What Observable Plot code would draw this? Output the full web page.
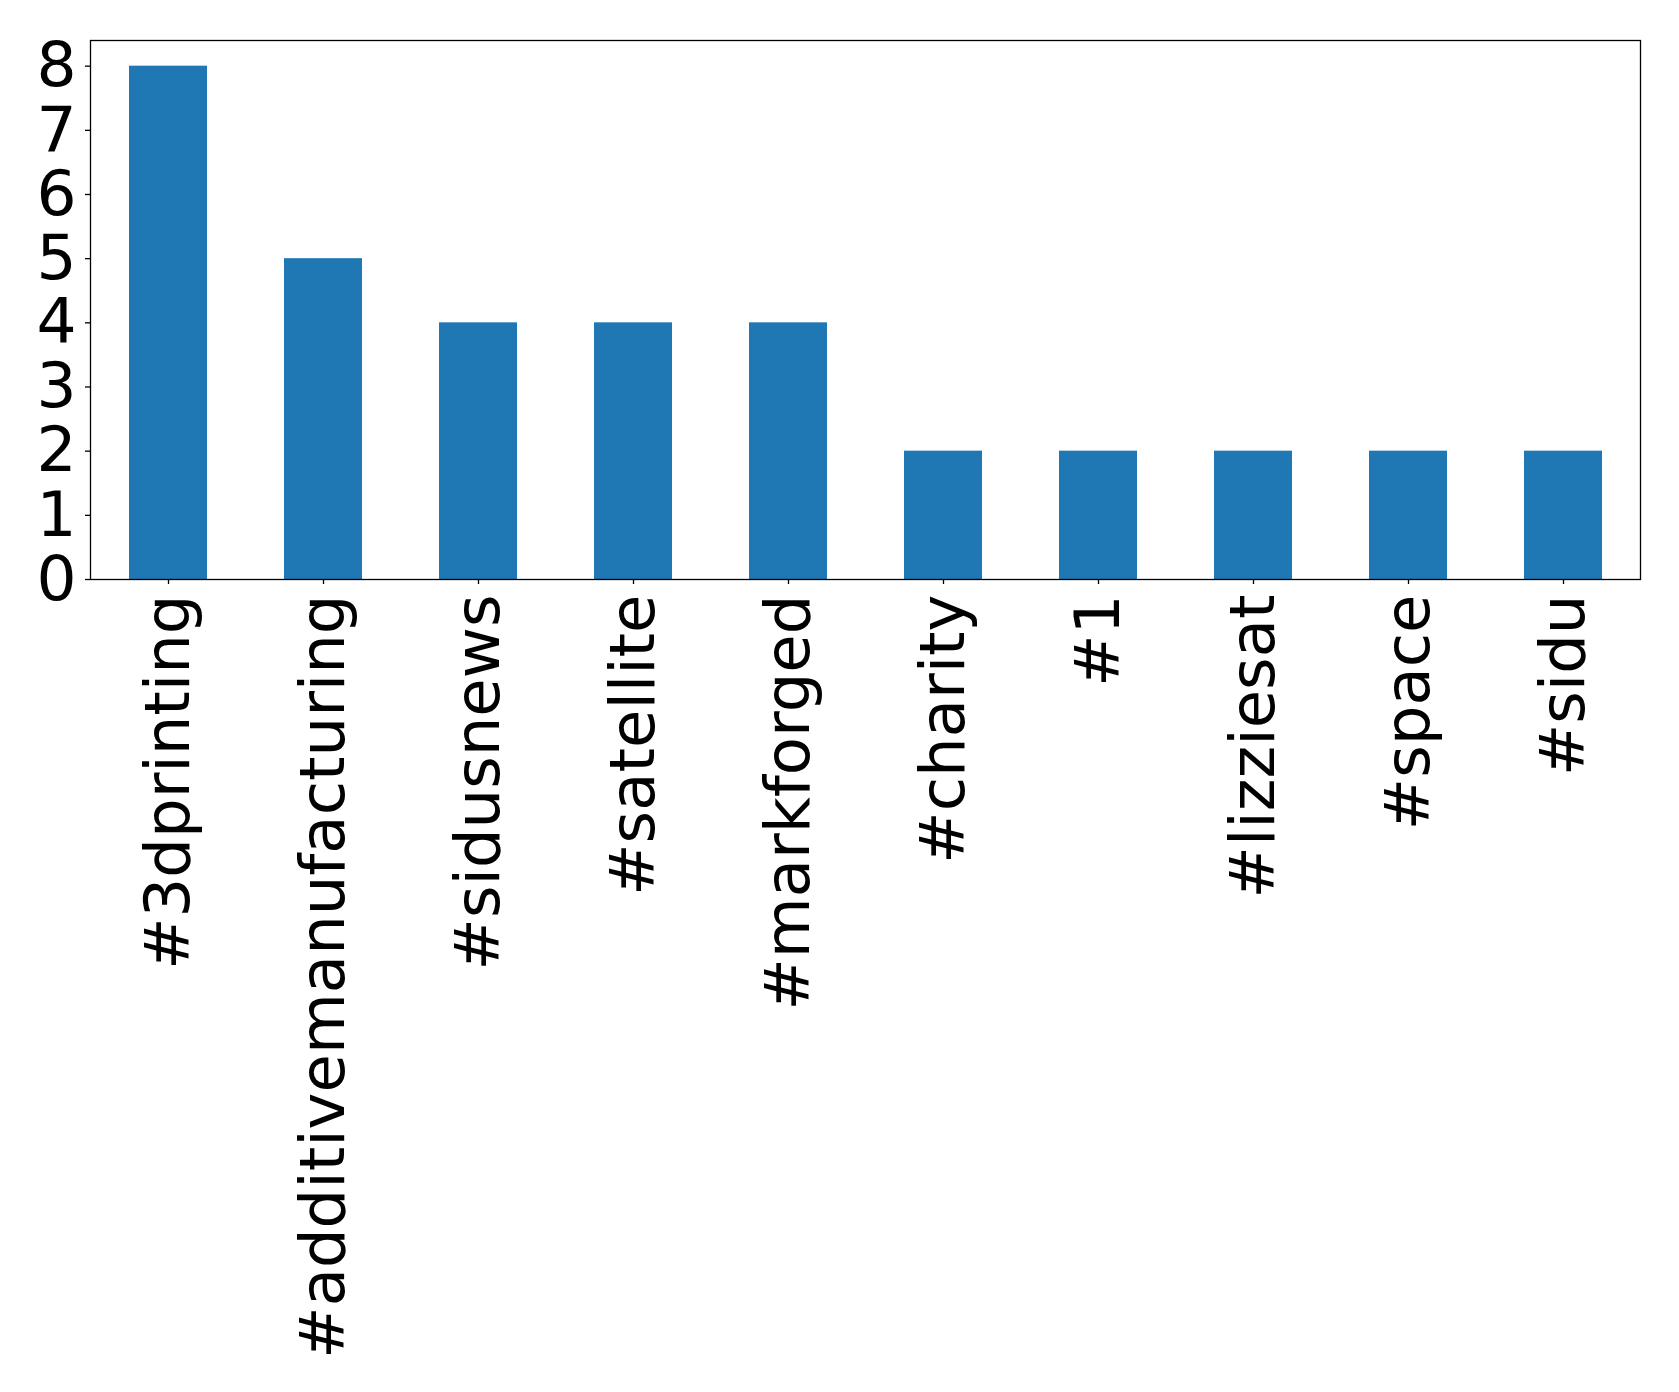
<!DOCTYPE html>
<html>
<head>
<meta charset="utf-8">
<script src="https://cdn.jsdelivr.net/npm/d3@7"></script>
<script src="https://cdn.jsdelivr.net/npm/@observablehq/plot@0.6"></script>
<style>
  html, body { margin: 0; padding: 0; background: #fff; }
  #chart svg { display: block; }
</style>
</head>
<body>
<div id="chart"></div>
<script>
const hashtags = ["#3dprinting", "#additivemanufacturing", "#sidusnews", "#satellite", "#markforged", "#charity", "#1", "#lizziesat", "#space", "#sidu"];
const counts = [8, 5, 4, 4, 4, 2, 2, 2, 2, 2];
const yTicks = [0, 1, 2, 3, 4, 5, 6, 7, 8];

const data = hashtags.map((tag, i) => ({tag, count: counts[i]}));

const chart = Plot.plot({
  width: 1679,
  height: 1392,
  marginTop: 40,
  marginLeft: 90,
  marginRight: 39,
  marginBottom: 813,
  style: {fontFamily: "DejaVu Sans", background: "#fff", color: "#000"},
  x: {domain: hashtags, paddingInner: 0.5, paddingOuter: 0.25},
  y: {domain: [0, 8.4]},
  marks: [
    Plot.barY(data, {x: "tag", y: "count", fill: "#1f77b4"}),
    Plot.frame({stroke: "#000", strokeWidth: 1.3}),
    Plot.axisY({ticks: yTicks, tickFormat: d => String(d), fontSize: 63, tickSize: 5, tickPadding: 9, label: null, strokeWidth: 1.3}),
    Plot.axisX({tickRotate: -90, fontSize: 62.5, tickSize: 5, tickPadding: 10, label: null, strokeWidth: 1.3})
  ]
});
document.getElementById("chart").appendChild(chart);
</script>
</body>
</html>
